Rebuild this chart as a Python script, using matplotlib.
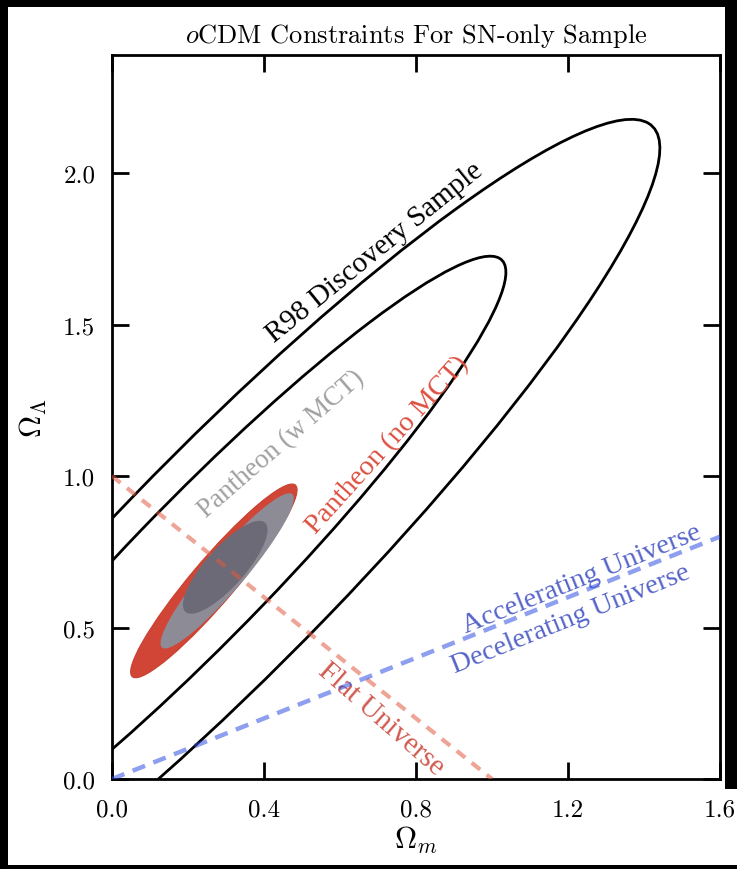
"""oCDM constraints for the SN-only sample."""

import numpy as np
import matplotlib

matplotlib.use("Agg")

import matplotlib.pyplot as plt
from matplotlib.patches import Ellipse, Rectangle

# confidence ellipses: centre (Om, OL), major, minor, angle of major axis (deg, data space)
R98_CENTER = [(0.311, 0.734), (0.238, 0.699)]
R98_MAJOR = [3.610, 2.570]
R98_MINOR = [0.647, 0.405]
R98_ANGLE = [52.4, 52.5]

NO_MCT_CENTER = (0.268, 0.654)
NO_MCT_MAJOR = 0.765
NO_MCT_MINOR = 0.125
NO_MCT_ANGLE = 56.2

W_MCT_CENTER = [(0.303, 0.687), (0.298, 0.699)]
W_MCT_MAJOR = [0.612, 0.362]
W_MCT_MINOR = [0.106, 0.112]
W_MCT_ANGLE = [56.3, 56.0]

# reference lines
FLAT_OM = [0.0, 1.0]
FLAT_OL = [1.0, 0.0]
ACC_OM = [0.0, 1.6]
ACC_OL = [0.0, 0.8]

XTICKS = [0.0, 0.4, 0.8, 1.2, 1.6]
YTICKS = [0.0, 0.5, 1.0, 1.5, 2.0]

plt.rcParams["font.family"] = "cmr10"
plt.rcParams["mathtext.fontset"] = "cm"
plt.rcParams["axes.formatter.use_mathtext"] = True

fig = plt.figure(figsize=(7.37, 8.7), dpi=100, facecolor="black")
# screenshot frame: white page on a black background
fig.patches.append(Rectangle((8 / 737, 4 / 870), 717 / 737, 858 / 870, transform=fig.transFigure,
                             facecolor="white", edgecolor="none", zorder=-10))
fig.patches.append(Rectangle((8 / 737, 4 / 870), 729 / 737, 76 / 870, transform=fig.transFigure,
                             facecolor="white", edgecolor="none", zorder=-10))
ax = fig.add_axes([112 / 737, 90 / 870, 608 / 737, 724 / 870])
ax.set_facecolor("white")

for c, w, h, a in zip(R98_CENTER, R98_MAJOR, R98_MINOR, R98_ANGLE):
    ax.add_patch(Ellipse(c, w, h, angle=a, fill=False, ec="black", lw=2.0, zorder=2))

ax.add_patch(Ellipse(NO_MCT_CENTER, NO_MCT_MAJOR, NO_MCT_MINOR, angle=NO_MCT_ANGLE,
                     fc="#d04535", ec="#c8402f", lw=0.8, zorder=3))
for c, w, h, a, col in zip(W_MCT_CENTER, W_MCT_MAJOR, W_MCT_MINOR, W_MCT_ANGLE, ["#8c8b96", "#6d6a77"]):
    ax.add_patch(Ellipse(c, w, h, angle=a, fc=col, ec="none", zorder=4))

ax.plot(FLAT_OM, FLAT_OL, color="#e15a40", alpha=0.55, lw=3.0, dashes=(2.6, 2.0), zorder=5)
ax.plot(ACC_OM, ACC_OL, color="#3050e0", alpha=0.55, lw=3.2, dashes=(3.0, 2.0), zorder=5)

txt = dict(family="Liberation Serif", ha="center", va="center", rotation_mode="anchor")
ax.text(0.691, 1.740, "R98 Discovery Sample", color="black", fontsize=21, rotation=39, **txt)
ax.text(0.447, 1.106, "Pantheon (w MCT)", color="#a0a0a0", fontsize=19.5, rotation=41, **txt)
ax.text(0.726, 1.104, "Pantheon (no MCT)", color="#dc5040", fontsize=20.5, rotation=48, **txt)
ax.text(0.708, 0.201, "Flat Universe", color="#d05a50", fontsize=21, rotation=-41, **txt)
ax.text(1.236, 0.660, "Accelerating Universe", color="#5564c8", fontsize=20.5, rotation=22, **txt)
ax.text(1.208, 0.531, "Decelerating Universe", color="#5564c8", fontsize=20.5, rotation=22, **txt)

ax.set_xlim(0, 1.6)
ax.set_ylim(0, 2.39)
ax.set_xticks(XTICKS)
ax.set_yticks(YTICKS)
ax.set_xticklabels([f"{v:.1f}" for v in XTICKS])
ax.set_yticklabels([f"{v:.1f}" for v in YTICKS])
ax.tick_params(direction="in", length=12, width=2, top=True, right=True, labelsize=18)
ax.tick_params(axis="x", pad=14)
ax.tick_params(axis="y", pad=12)
for s in ax.spines.values():
    s.set_linewidth(2)

ax.set_title(r"$o$CDM Constraints For SN-only Sample", fontsize=19, pad=9)
ax.set_xlabel(r"$\Omega_m$", fontsize=22, labelpad=2)
ax.set_ylabel(r"$\Omega_\Lambda$", fontsize=22, labelpad=10)

fig.savefig("out.png", dpi=100, facecolor=fig.get_facecolor())
plt.close(fig)
